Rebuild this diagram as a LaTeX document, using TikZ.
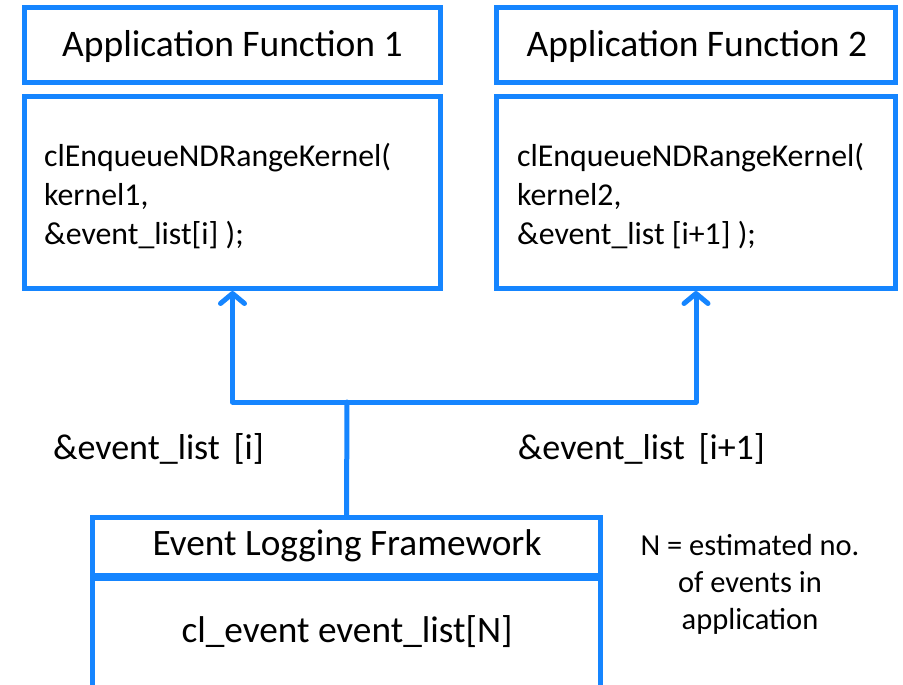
\documentclass[tikz,border=0pt]{standalone}
\usepackage{fontspec}
\setmainfont{Carlito}
\usetikzlibrary{arrows.meta}
\definecolor{boxblue}{RGB}{21,133,255}
\tikzset{
  frame/.style={draw=boxblue, line width=5pt, rectangle, inner sep=0pt, fill=white},
  conn/.style={draw=boxblue, line width=5pt, line cap=round, line join=round},
  tip/.style={-{Straight Barb[length=10pt,width=24pt,round]}},
  titletext/.style={inner sep=0pt, font=\fontsize{37.5}{44}\selectfont},
  codetext/.style={inner sep=0pt, align=left, anchor=north west, font=\fontsize{31.8}{39}\selectfont},
  labeltext/.style={inner sep=0pt, font=\fontsize{36}{43}\selectfont},
  boxtext/.style={inner sep=0pt, font=\fontsize{37.3}{44}\selectfont},
  notetext/.style={inner sep=0pt, align=center, font=\fontsize{30.5}{37}\selectfont}
}
\newcommand{\gap}{\hspace{0.38em}}
\begin{document}
\begin{tikzpicture}[x=1pt,y=-1pt]
  \fill[white] (0,0) rectangle (903,685);
  \useasboundingbox (0,0) rectangle (903,685);
  \clip (0,0) rectangle (903,685);

  % application function boxes
  \node[frame, minimum width=416pt, minimum height=75pt] (af1title) at (232.5,45) {};
  \node[frame, minimum width=416pt, minimum height=192pt] (af1body) at (232.5,192.5) {};
  \node[frame, minimum width=399pt, minimum height=75pt] (af2title) at (696,45) {};
  \node[frame, minimum width=399pt, minimum height=192pt] (af2body) at (696,192.5) {};

  \node[titletext] (af1name) at (232.5,47) {Application Function 1};
  \node[titletext] (af2name) at (697,47) {Application Function 2};
  \node[codetext] (af1code) at (44,143) {clEnqueueNDRangeKernel(\\kernel1,\\\&event\_list[i] );};
  \node[codetext] (af2code) at (517,143) {clEnqueueNDRangeKernel(\\kernel2,\\\&event\_list [i+1] );};

  % event logging framework
  \node[frame, minimum width=508pt, minimum height=58pt] (evtitle) at (346.5,546.5) {};
  \node[frame, minimum width=508pt, minimum height=112pt] (evbody) at (346.5,634) {};
  \node[boxtext] (evname) at (347,546) {Event Logging Framework};
  \node[boxtext] (evdecl) at (347,632) {cl\_event event\_list[N]};

  \node[notetext] (note) at (750,584) {N = estimated no.\\of events in\\application};

  % connectors
  \coordinate (J) at (347,402);
  \draw[conn] (evtitle.north) -- (J);
  \draw[conn,tip] (J) -| (af1body.south);
  \draw[conn,tip] (J) -| (af2body.south);

  \node[labeltext] (lbl1) at (158.5,449) {\&event\_list\gap[i]};
  \node[labeltext] (lbl2) at (641.5,449) {\&event\_list\gap[i+1]};
\end{tikzpicture}
\end{document}
